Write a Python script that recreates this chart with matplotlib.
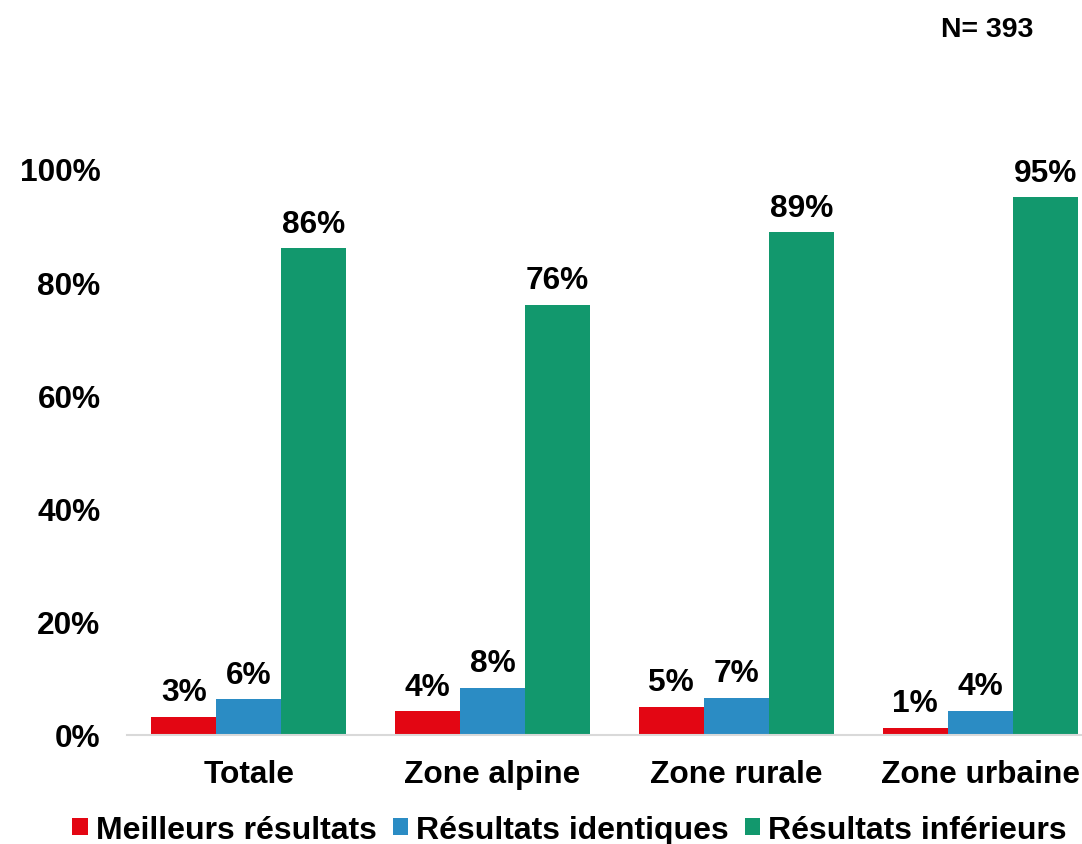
import numpy as np
import matplotlib
matplotlib.use("Agg")
import matplotlib.pyplot as plt

# --- Dados ---
categories = ["Totale", "Zone alpine", "Zone rurale", "Zone urbaine"]
series_names = ["Meilleurs résultats", "Résultats identiques", "Résultats inférieurs"]
meilleurs = [3.2, 4.2, 5.0, 1.2]
identiques = [6.3, 8.3, 6.6, 4.3]
inferieurs = [86.0, 76.0, 88.8, 95.0]
labels_meilleurs = ["3%", "4%", "5%", "1%"]
labels_identiques = ["6%", "8%", "7%", "4%"]
labels_inferieurs = ["86%", "76%", "89%", "95%"]
n_text = "N= 393"

colors = ["#E30613", "#2B8CC4", "#12986D"]

plt.rcParams["font.family"] = ["Liberation Sans", "DejaVu Sans"]
plt.rcParams["font.weight"] = "bold"

fig = plt.figure(figsize=(10.82, 8.45), dpi=100)
# axe un peu plus large que la figure (le bord droit est coupé dans l'original)
ax = fig.add_axes([127 / 1082, 109 / 845, 975 / 1082, 566 / 845])

x = np.arange(len(categories))
w = 0.267
values = [meilleurs, identiques, inferieurs]
labels = [labels_meilleurs, labels_identiques, labels_inferieurs]

for i, (vals, labs) in enumerate(zip(values, labels)):
    bars = ax.bar(x + (i - 1) * w, vals, width=w, color=colors[i],
                  label=series_names[i], zorder=2)
    for b, lab in zip(bars, labs):
        ax.annotate(lab, (b.get_x() + b.get_width() / 2, b.get_height()),
                    xytext=(0, 7), textcoords="offset points",
                    ha="center", va="bottom", fontsize=22.8, fontweight="bold")

ax.set_xlim(-0.5, 3.5)
ax.set_ylim(0, 100)
ax.set_yticks([0, 20, 40, 60, 80, 100])
ax.set_yticklabels([f"{v}%" for v in [0, 20, 40, 60, 80, 100]])
ax.set_xticks(x)
ax.set_xticklabels(categories)
ax.tick_params(axis="both", length=0, labelsize=22.8)
ax.tick_params(axis="y", pad=19)
ax.tick_params(axis="x", pad=17)

for s in ["top", "right", "left"]:
    ax.spines[s].set_visible(False)
ax.spines["bottom"].set_color("#D9D9D9")
ax.spines["bottom"].set_linewidth(1.5)

fig.text(1033 / 1082, 1 - 30 / 845, n_text, ha="right", va="center",
         fontsize=20.5, fontweight="bold")

# legenda em baixo (no original está ligeiramente cortada)
fig.legend(loc="center", bbox_to_anchor=(569.5 / 1082, 1 - 831 / 845),
           ncol=3, frameon=False, fontsize=23,
           handlelength=0.48, handleheight=0.42, handletextpad=0.25,
           columnspacing=0.5, borderaxespad=0, borderpad=0)

fig.savefig("out.png", dpi=100)
